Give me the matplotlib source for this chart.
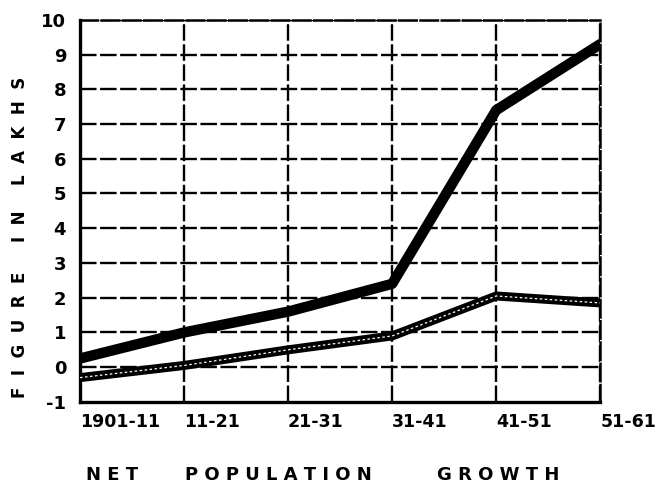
import matplotlib.pyplot as plt

# decades and net growth (figures in lakhs)
decades = ['1901-11', '11-21', '21-31', '31-41', '41-51', '51-61']
upper_growth = [0.25, 1.0, 1.6, 2.4, 7.4, 9.3]
lower_growth = [-0.3, 0.05, 0.5, 0.9, 2.05, 1.85]
y_ticks = [-1, 0, 1, 2, 3, 4, 5, 6, 7, 8, 9, 10]


def main():
    fig = plt.figure(figsize=(6.56, 4.95), dpi=100)
    ax = fig.add_axes([0.122, 0.188, 0.793, 0.772])

    x = list(range(len(decades)))

    # dashed grid, hand drawn look
    for yv in y_ticks[1:]:
        ax.axhline(yv, color='black', lw=1.7, ls=(0, (7, 1.5)), zorder=1)
    for xv in x[1:]:
        ax.axvline(xv, color='black', lw=1.7, ls=(0, (7, 1.5)), zorder=1)

    # thick line
    ax.plot(x, upper_growth, color='black', lw=7.5, solid_capstyle='round',
            solid_joinstyle='round', zorder=3)

    # double line: black with white dotted core
    ax.plot(x, lower_growth, color='black', lw=6.5, solid_capstyle='round',
            solid_joinstyle='round', zorder=3)
    ax.plot(x, lower_growth, color='white', lw=0.9, ls=(0, (2, 2)), zorder=4)

    ax.set_xlim(0, len(decades) - 1)
    ax.set_ylim(-1, 10)

    ax.set_xticks(x)
    ax.set_xticklabels(decades, ha='left', fontsize=12.5, fontweight='heavy')
    ax.set_yticks(y_ticks)
    ax.set_yticklabels([str(v) for v in y_ticks], fontsize=13, fontweight='heavy')
    ax.tick_params(length=0, pad=8)
    ax.tick_params(axis='y', pad=10)

    for side in ['left', 'bottom']:
        ax.spines[side].set_linewidth(2.4)
    for side in ['top', 'right']:
        ax.spines[side].set_linewidth(1.8)
        ax.spines[side].set_linestyle((0, (7, 1.5)))

    # y title, word by word (spaced letters)
    for word, yc in [('L  A  K  H  S', 0.735), ('I  N', 0.543), ('F  I  G  U  R  E', 0.323)]:
        fig.text(0.03, yc, word, rotation=90, ha='center', va='center',
                 fontsize=12, fontweight='heavy')

    # x title
    for word, xc in [('N E T', 0.171), ('P O P U L A T I O N', 0.425), ('G R O W T H', 0.759)]:
        fig.text(xc, 0.04, word, ha='center', va='center',
                 fontsize=13, fontweight='heavy')

    fig.savefig('out.png', dpi=100)


if __name__ == '__main__':
    main()
